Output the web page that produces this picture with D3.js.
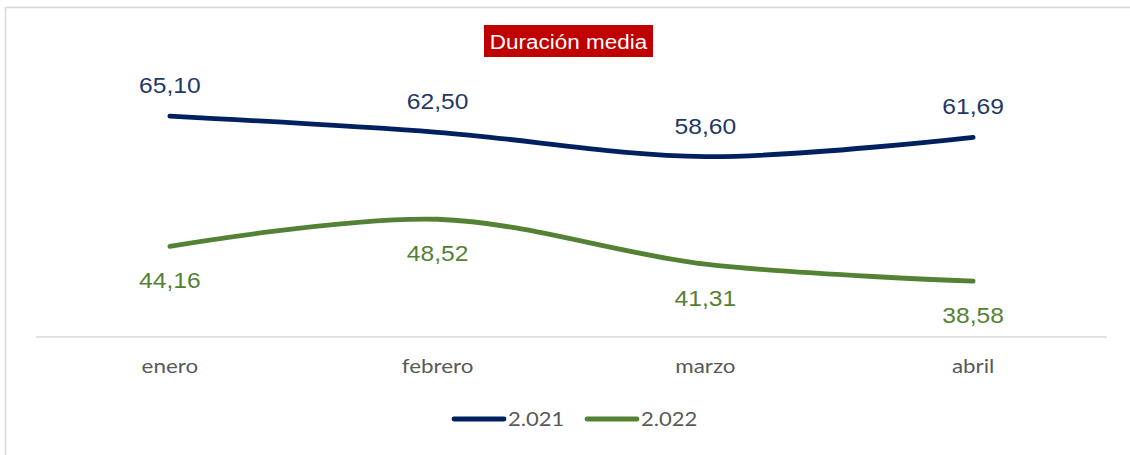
<!DOCTYPE html>
<html>
<head>
<meta charset="utf-8">
<script src="https://cdn.jsdelivr.net/npm/d3@7"></script>
<style>
  html, body { margin: 0; padding: 0; background: #ffffff; }
  svg { display: block; }
</style>
</head>
<body>
<script>
const categories = ["enero", "febrero", "marzo", "abril"];
const series2021 = [65.10, 62.50, 58.60, 61.69];
const series2022 = [44.16, 48.52, 41.31, 38.58];
const seriesNames = ["2.021", "2.022"];
const chartTitle = "Duración media";

const W = 1130, H = 455;
const SX = 1.12; // horizontal stretch of the reference text
const svg = d3.select("body").append("svg").attr("width", W).attr("height", H);

// chart border
svg.append("rect").attr("x", 5.5).attr("y", 7.5).attr("width", W + 20).attr("height", H + 20)
  .attr("fill", "none").attr("stroke", "#d9d9d9").attr("stroke-width", 1.5);

const x = d3.scaleBand().domain(categories).range([36, 1107]);
const y = d3.scaleLinear().domain([29.6, 70]).range([337, 85.6]);

// baseline
svg.append("line").attr("x1", 36).attr("x2", 1107).attr("y1", y(29.6)).attr("y2", y(29.6))
  .attr("stroke", "#d9d9d9").attr("stroke-width", 1.5);

// x axis labels
const xAxis = d3.axisBottom(x).tickSize(0).tickPadding(0);
const gx = svg.append("g").attr("transform", `translate(0,${y(29.6) + 22})`).call(xAxis);
gx.select(".domain").remove();
gx.selectAll("text").attr("font-family", "Lato, 'Open Sans', sans-serif").attr("font-size", 20)
  .attr("fill", "#595959").attr("dy", "0.68em").attr("transform", "scale(1.12,1)");

const colors = ["#002060", "#548235"];
const textColors = ["#1f3864", "#548235"];
const allSeries = [series2021, series2022];

const line = d3.line()
  .x((d, i) => x(categories[i]) + x.bandwidth() / 2)
  .y(d => y(d))
  .curve(d3.curveCardinal.tension(0));

allSeries.forEach((s, si) => {
  svg.append("path").datum(s).attr("d", line).attr("fill", "none")
    .attr("stroke", colors[si]).attr("stroke-width", 4.8).attr("stroke-linecap", "round");
  svg.selectAll(null).data(s).enter().append("text")
    .attr("transform", (d, i) => `translate(${x(categories[i]) + x.bandwidth() / 2},${si === 0 ? y(d) - 23 : y(d) + 42}) scale(${SX},1)`)
    .attr("text-anchor", "middle")
    .attr("font-family", "'Liberation Sans', Arial, sans-serif").attr("font-size", 22)
    .attr("fill", textColors[si])
    .text(d => d.toFixed(2).replace(".", ","));
});

// title
const tg = svg.append("g");
tg.append("rect").attr("x", 484).attr("y", 25).attr("width", 169).attr("height", 32).attr("fill", "#c00000");
tg.append("text").attr("transform", "translate(568.5,49) scale(1.07,1)").attr("text-anchor", "middle")
  .attr("font-family", "'Liberation Sans', Arial, sans-serif").attr("font-size", 21)
  .attr("fill", "#ffffff").text(chartTitle);

// legend
const legendX = [452, 585];
seriesNames.forEach((n, i) => {
  svg.append("line").attr("x1", legendX[i] + 2).attr("x2", legendX[i] + 52).attr("y1", 419).attr("y2", 419)
    .attr("stroke", colors[i]).attr("stroke-width", 4.8).attr("stroke-linecap", "round");
  svg.append("text").attr("transform", `translate(${legendX[i] + 56},426) scale(1.1,1)`)
    .attr("font-family", "Lato, 'Open Sans', sans-serif").attr("font-size", 20)
    .attr("fill", "#595959").text(n);
});
</script>
</body>
</html>
